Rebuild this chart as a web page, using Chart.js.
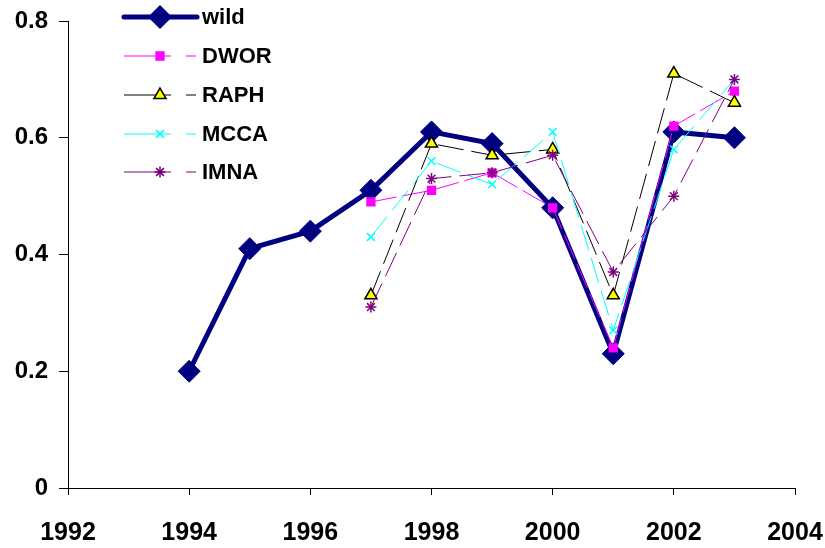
<!DOCTYPE html>
<html>
<head>
<meta charset="utf-8">
<script src="https://cdn.jsdelivr.net/npm/chart.js@4"></script>
<style>
  html, body { margin: 0; padding: 0; background: #fff; }
  #wrap { width: 825px; height: 548px; }
</style>
</head>
<body>
<div id="wrap"><canvas id="grafico" width="825" height="548"></canvas></div>
<script>
// anos e valores
const years = [1994, 1995, 1996, 1997, 1998, 1999, 2000, 2001, 2002, 2003];
const wild = [0.20, 0.41, 0.44, 0.51, 0.61, 0.59, 0.48, 0.23, 0.61, 0.60];
const dwor = [null, null, null, 0.49, 0.51, 0.54, 0.48, 0.24, 0.62, 0.68];
const raph = [null, null, null, 0.33, 0.59, 0.57, 0.58, 0.33, 0.71, 0.66];
const mcca = [null, null, null, 0.43, 0.56, 0.52, 0.61, 0.27, 0.58, 0.70];
const imna = [null, null, null, 0.31, 0.53, 0.54, 0.57, 0.37, 0.50, 0.70];
const xTicks = [1992, 1994, 1996, 1998, 2000, 2002, 2004];
const yTicks = [0, 0.2, 0.4, 0.6, 0.8];

function pontos(valores) {
  const out = [];
  valores.forEach((v, i) => {
    if (v !== null) out.push({ x: years[i], y: v });
  });
  return out;
}

const series = [
  { label: "wild", data: wild, color: "#000080", fill: "#000080", style: "rectRot", radius: 11, width: 5, dash: [], order: 10 },
  { label: "DWOR", data: dwor, color: "#FF00FF", fill: "#FF00FF", style: "rect", radius: 5.5, width: 1, dash: [26, 6], order: 5 },
  { label: "RAPH", data: raph, color: "#000000", fill: "#FFFF00", style: "triangle", radius: 7, width: 1, dash: [26, 8], order: 4 },
  { label: "MCCA", data: mcca, color: "#00FFFF", fill: "#00FFFF", style: "crossRot", radius: 5.5, width: 1, dash: [26, 8], order: 3 },
  { label: "IMNA", data: imna, color: "#800080", fill: "#800080", style: "star", radius: 5.5, width: 1, dash: [26, 8], order: 2 },
];

const datasets = series.map((s) => ({
  label: s.label,
  data: pontos(s.data),
  borderColor: s.color,
  backgroundColor: s.fill,
  borderWidth: s.width,
  borderDash: s.dash,
  pointStyle: s.style,
  pointRadius: s.radius,
  pointBorderColor: s.style === "triangle" ? "#000000" : s.color,
  pointBackgroundColor: s.fill,
  pointBorderWidth: s.style === "rectRot" ? 1 : 1.5,
  tension: 0,
  order: s.order,
}));

// legenda desenhada dentro da área do gráfico
const legendaPlugin = {
  id: "legendaInterna",
  afterDraw(chart) {
    const ctx = chart.ctx;
    ctx.save();
    const ys = [17, 56, 95, 134, 172];
    series.forEach((s, i) => {
      const y = ys[i];
      ctx.setLineDash([]);
      ctx.strokeStyle = s.color;
      ctx.lineWidth = s.width;
      ctx.lineCap = i === 0 ? "round" : "butt";
      ctx.beginPath();
      if (i === 0) {
        ctx.moveTo(124, y);
        ctx.lineTo(197, y);
      } else {
        ctx.moveTo(124, y);
        ctx.lineTo(171, y);
        ctx.moveTo(186, y);
        ctx.lineTo(196, y);
      }
      ctx.stroke();
      ctx.fillStyle = s.fill;
      ctx.strokeStyle = s.style === "triangle" ? "#000" : s.color;
      ctx.lineWidth = 1.5;
      Chart.helpers.drawPoint(ctx, { pointStyle: s.style, radius: s.radius, rotation: 0, borderWidth: 1.5 }, 160, y);
      ctx.fillStyle = "#000";
      ctx.font = "bold 22px 'Liberation Sans', Arial, sans-serif";
      ctx.textBaseline = "middle";
      ctx.textAlign = "left";
      ctx.fillText(s.label, 202, y + 1);
    });
    ctx.restore();
  },
};

const fonte = "'Liberation Sans', Arial, sans-serif";

const ctx = document.getElementById("grafico").getContext("2d");
new Chart(ctx, {
  type: "line",
  data: { datasets: datasets },
  options: {
    responsive: false,
    animation: false,
    layout: { padding: { top: 21, right: 30, bottom: 0, left: 0 } },
    plugins: {
      legend: { display: false },
      tooltip: { enabled: false },
    },
    scales: {
      x: {
        type: "linear",
        min: 1992,
        max: 2004,
        afterBuildTicks(axis) {
          axis.ticks = xTicks.map((v) => ({ value: v }));
        },
        afterFit(axis) {
          axis.height = 60;
          axis.paddingLeft = 0;
          axis.paddingRight = 0;
        },
        grid: {
          display: true,
          drawOnChartArea: false,
          drawTicks: true,
          tickLength: 7,
          color: "#000",
        },
        border: { display: true, color: "#000", width: 1 },
        ticks: {
          color: "#000",
          font: { family: fonte, size: 25, weight: "bold" },
          padding: 23,
          maxRotation: 0,
          callback: (v) => String(v),
        },
      },
      y: {
        min: 0,
        max: 0.8,
        afterBuildTicks(axis) {
          axis.ticks = yTicks.map((v) => ({ value: v }));
        },
        afterFit(axis) {
          axis.width = 68;
          axis.paddingTop = 0;
          axis.paddingBottom = 0;
        },
        grid: {
          display: true,
          drawOnChartArea: false,
          drawTicks: true,
          tickLength: 9,
          color: "#000",
        },
        border: { display: true, color: "#000", width: 1 },
        ticks: {
          color: "#000",
          font: { family: fonte, size: 24, weight: "bold" },
          padding: 11,
          callback: (v) => (v === 0 ? "0" : v.toFixed(1)),
        },
      },
    },
  },
  plugins: [legendaPlugin],
});
</script>
</body>
</html>
